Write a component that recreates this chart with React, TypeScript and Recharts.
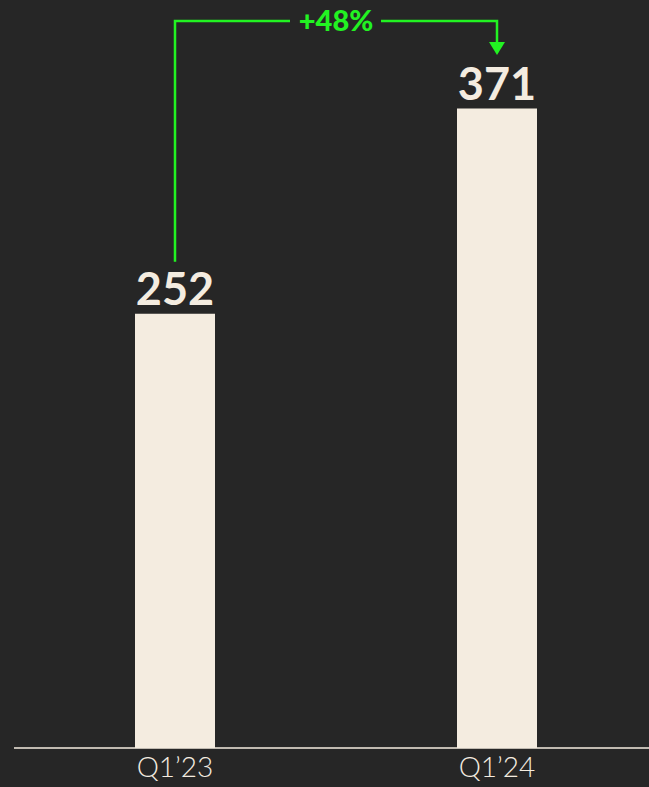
import * as React from 'react';
import { BarChart, Bar, XAxis, YAxis, LabelList } from 'recharts';

const quarters = ['Q1’23', 'Q1’24'];
const customers = [252, 371];
const growthLabel = '+48%';

const data = quarters.map((q, i) => ({ quarter: q, value: customers[i] }));

const BG = '#262626';
const CREAM = '#f4ece0';
const GREEN = '#22f222';
const FONT = 'Lato, "Open Sans", sans-serif';

// label positions shared between the two label renders (index 0 renders first)
const tops: { x: number; y: number }[] = [];

function ValueLabel(props: any) {
  const { x, y, width, value, index } = props;
  const cx = x + width / 2;
  const labelY = y - 9;
  tops[index] = { x: cx, y: labelY - 33 };
  let arrow = null;
  if (index === 1 && tops[0]) {
    const a = tops[0];
    const lineY = 21;
    const mid = (a.x + cx) / 2;
    arrow = (
      <g>
        <polyline
          points={`${a.x},${a.y - 10} ${a.x},${lineY} ${mid - 46},${lineY}`}
          fill="none"
          stroke={GREEN}
          strokeWidth={2.5}
        />
        <polyline
          points={`${mid + 45},${lineY} ${cx},${lineY} ${cx},${lineY + 22}`}
          fill="none"
          stroke={GREEN}
          strokeWidth={2.5}
        />
        <path d={`M${cx - 8},${lineY + 21} L${cx + 8},${lineY + 21} L${cx},${lineY + 34} Z`} fill={GREEN} />
        <text
          x={mid}
          y={lineY + 10}
          textAnchor="middle"
          fill={GREEN}
          fontFamily={FONT}
          fontWeight={900}
          fontSize={29}
        >
          {growthLabel}
        </text>
      </g>
    );
  }
  return (
    <g>
      <text x={cx} y={labelY} textAnchor="middle" fill={CREAM} fontFamily={FONT} fontWeight={700} fontSize={45}>
        {value}
      </text>
      {arrow}
    </g>
  );
}

export default function App() {
  return (
    <div style={{ position: 'fixed', left: 0, top: 0, width: 649, height: 787, overflow: 'hidden', background: BG }}>
      <BarChart width={658} height={787} data={data} margin={{ top: 0, right: 0, left: 14, bottom: 0 }}>
        <XAxis
          dataKey="quarter"
          height={39}
          axisLine={{ stroke: CREAM, strokeWidth: 1.5 }}
          tickLine={false}
          tick={{ fill: CREAM, fontFamily: FONT, fontWeight: 300, fontSize: 28 }}
          tickMargin={3}
        />
        <YAxis hide domain={[0, 434]} />
        <Bar dataKey="value" fill={CREAM} barSize={80} isAnimationActive={false}>
          <LabelList dataKey="value" content={<ValueLabel />} />
        </Bar>
      </BarChart>
    </div>
  );
}
